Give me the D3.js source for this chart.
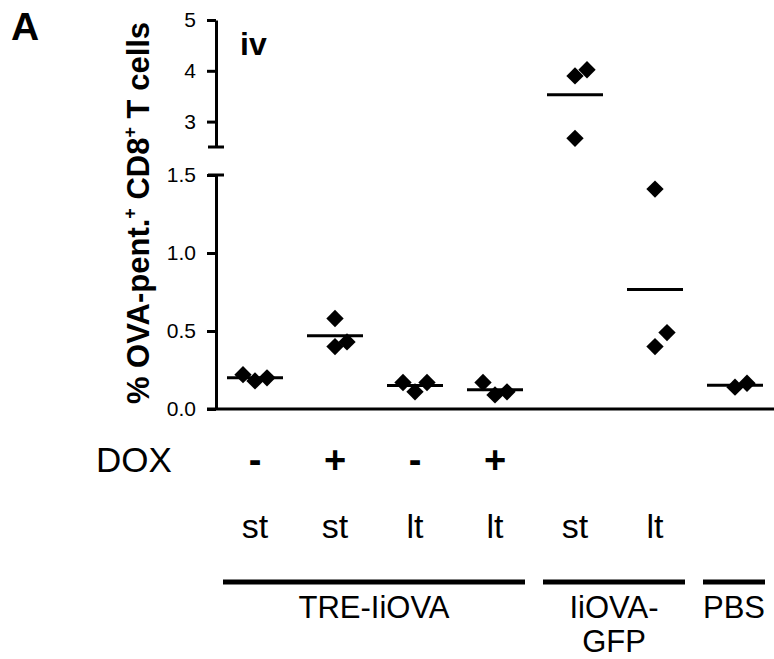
<!DOCTYPE html>
<html>
<head>
<meta charset="utf-8">
<script src="https://cdn.jsdelivr.net/npm/d3@7"></script>
<style>
  body { margin: 0; background: #fff; }
  text { font-family: "Liberation Sans", Arial, sans-serif; fill: #000; }
</style>
</head>
<body>
<script>
// groups along the x axis
var groups = ["g1", "g2", "g3", "g4", "g5", "g6", "g7"];
var doxLabels = ["-", "+", "-", "+", "", "", ""];
var termLabels = ["st", "st", "lt", "lt", "st", "lt", ""];
// % OVA-pentamer+ CD8+ T cells, one array per group
var values = [
    [0.18, 0.20, 0.22],
    [0.58, 0.40, 0.43],
    [0.11, 0.17, 0.17],
    [0.09, 0.11, 0.17],
    [3.90, 2.67, 4.02],
    [1.41, 0.40, 0.49],
    [0.14, 0.165]
];
var lowTicks = [0, 0.5, 1.0, 1.5];
var highTicks = [3, 4, 5];
var brackets = [
    { label: ["TRE-IiOVA"], from: 0, to: 3 },
    { label: ["IiOVA-", "GFP"], from: 4, to: 5 },
    { label: ["PBS"], from: 6, to: 6 }
];

let chart = function() {
    let w = 774;
    let h = 659;
    let axisX = 216;

    let svg = d3.select("body")
        .append("svg")
        .attr("width", w)
        .attr("height", h);

    // broken y axis: two linear segments
    let yLow = d3.scaleLinear().domain([0, 1.5]).range([409, 175]);
    let yHigh = d3.scaleLinear().domain([2.5, 5]).range([147, 20]);
    let y = function(v) { return v <= 1.5 ? yLow(v) : yHigh(v); };

    let x = d3.scalePoint().domain(groups).range([255, 735]);

    // axes
    let lowAxis = svg.append("g")
        .attr("transform", "translate(" + axisX + ",0)")
        .call(d3.axisLeft(yLow).tickValues(lowTicks)
            .tickFormat(d3.format(".1f")).tickSize(9).tickSizeOuter(0).tickPadding(11));
    let highAxis = svg.append("g")
        .attr("transform", "translate(" + axisX + ",0)")
        .call(d3.axisLeft(yHigh).tickValues(highTicks)
            .tickFormat(d3.format("d")).tickSize(9).tickSizeOuter(0).tickPadding(11));

    [lowAxis, highAxis].forEach(function(g) {
        g.selectAll("path.domain").attr("stroke", "#000").attr("stroke-width", 3);
        g.selectAll(".tick line").attr("stroke", "#000").attr("stroke-width", 3);
        g.selectAll(".tick text")
            .attr("font-family", "Liberation Sans, Arial, sans-serif")
            .attr("font-size", "21px")
            .attr("fill", "#222");
    });

    // caps at the break
    [yLow(1.5), yHigh(2.5)].forEach(function(cy) {
        svg.append("line")
            .attr("x1", axisX - 8).attr("x2", axisX + 8)
            .attr("y1", cy).attr("y2", cy)
            .attr("stroke", "#000").attr("stroke-width", 3);
    });

    // x axis baseline
    svg.append("line")
        .attr("x1", axisX - 9).attr("x2", w)
        .attr("y1", yLow(0)).attr("y2", yLow(0))
        .attr("stroke", "#000").attr("stroke-width", 3);

    // means
    svg.selectAll("line.mean")
        .data(values)
        .enter()
        .append("line")
        .attr("class", "mean")
        .attr("x1", function(d, i) { return x(groups[i]) - 28; })
        .attr("x2", function(d, i) { return x(groups[i]) + 28; })
        .attr("y1", function(d) { return y(d3.mean(d)); })
        .attr("y2", function(d) { return y(d3.mean(d)); })
        .attr("stroke", "#000")
        .attr("stroke-width", 3);

    // scatter points, nudged sideways when they would overlap
    let pts = [];
    values.forEach(function(vals, i) {
        let placed = [];
        vals.forEach(function(v) {
            let py = y(v);
            let offs = [0, 12, -12, 24, -24];
            let dx = offs.find(function(o) {
                return !placed.some(function(p) {
                    return Math.abs(p.dx - o) < 10 && Math.abs(p.py - py) < 15;
                });
            });
            placed.push({ dx: dx, py: py });
            pts.push({ cx: x(groups[i]) + dx, cy: py });
        });
    });

    svg.selectAll("path.pt")
        .data(pts)
        .enter()
        .append("path")
        .attr("class", "pt")
        .attr("d", d3.symbol().type(d3.symbolSquare).size(150))
        .attr("transform", function(d) {
            return "translate(" + d.cx + "," + d.cy + ") rotate(45)";
        })
        .attr("fill", "#000");

    // y axis title
    let title = svg.append("text")
        .attr("transform", "translate(149,213) rotate(-90)")
        .attr("text-anchor", "middle")
        .attr("font-size", "31px")
        .attr("font-weight", "bold");
    title.append("tspan").text("% OVA-pent.");
    title.append("tspan").attr("font-size", "18px").attr("dy", -13).text("+");
    title.append("tspan").attr("dy", 13).text(" CD8");
    title.append("tspan").attr("font-size", "18px").attr("dy", -13).text("+");
    title.append("tspan").attr("dy", 13).text(" T cells");

    // panel letters
    svg.append("text")
        .attr("x", 11).attr("y", 40)
        .attr("font-size", "39px").attr("font-weight", "bold")
        .text("A");
    svg.append("text")
        .attr("x", 240).attr("y", 55)
        .attr("font-size", "32px").attr("font-weight", "bold")
        .text("iv");

    // DOX row
    svg.append("text")
        .attr("x", 96).attr("y", 472)
        .attr("font-size", "35px")
        .text("DOX");
    svg.selectAll("text.dox")
        .data(doxLabels)
        .enter()
        .append("text")
        .attr("class", "dox")
        .attr("x", function(d, i) { return x(groups[i]); })
        .attr("y", 473)
        .attr("text-anchor", "middle")
        .attr("font-size", "38px")
        .attr("font-weight", "bold")
        .text(function(d) { return d; });

    // short / long term row
    svg.selectAll("text.term")
        .data(termLabels)
        .enter()
        .append("text")
        .attr("class", "term")
        .attr("x", function(d, i) { return x(groups[i]); })
        .attr("y", 538)
        .attr("text-anchor", "middle")
        .attr("font-size", "34px")
        .text(function(d) { return d; });

    // group brackets
    brackets.forEach(function(b) {
        let x1 = x(groups[b.from]) - 32;
        let x2 = x(groups[b.to]) + 30;
        svg.append("line")
            .attr("x1", x1).attr("x2", x2)
            .attr("y1", 582).attr("y2", 582)
            .attr("stroke", "#000").attr("stroke-width", 5);
        let t = svg.append("text")
            .attr("x", (x1 + x2) / 2)
            .attr("y", 618)
            .attr("text-anchor", "middle")
            .attr("font-size", "31px");
        b.label.forEach(function(s, k) {
            t.append("tspan")
                .attr("x", (x1 + x2) / 2)
                .attr("dy", k === 0 ? 0 : 34)
                .text(s);
        });
    });
};

chart();
</script>
</body>
</html>
